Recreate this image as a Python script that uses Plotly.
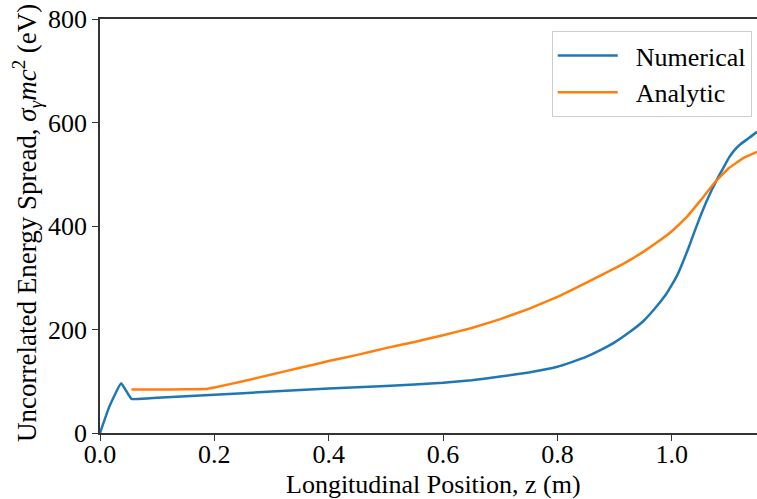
import plotly.graph_objects as go

# Longitudinal position z (m) and uncorrelated energy spread (eV)
numerical_z = [0.0, 0.016, 0.037, 0.055, 0.1, 0.2, 0.3, 0.4, 0.5, 0.6, 0.65, 0.7, 0.75,
               0.8, 0.825, 0.85, 0.875, 0.9, 0.925, 0.95, 0.97, 0.99, 1.0, 1.01, 1.02,
               1.03, 1.04, 1.05, 1.06, 1.07, 1.08, 1.09, 1.1, 1.11, 1.12, 1.135, 1.149]
numerical_sigma = [0, 50, 96, 66, 68, 74, 80, 86, 91, 97, 102, 109, 117,
                   128, 137, 147, 160, 175, 194, 216, 240, 268, 286, 306, 332,
                   360, 390, 419, 446, 470, 492, 512, 532, 547, 558, 570, 582]

analytic_z = [0.055, 0.1, 0.15, 0.185, 0.2, 0.25, 0.3, 0.35, 0.4, 0.45, 0.5, 0.55, 0.6,
              0.65, 0.7, 0.75, 0.8, 0.85, 0.9, 0.925, 0.95, 0.975, 1.0, 1.025, 1.05,
              1.075, 1.1, 1.125, 1.149]
analytic_sigma = [84, 84, 84.5, 85, 88, 100, 113, 126, 139, 151, 164, 176, 189,
                  203, 220, 240, 263, 290, 318, 333, 350, 369, 390, 416, 449,
                  484, 512, 531, 543]

series_names = ["Numerical", "Analytic"]
x_ticks = [0.0, 0.2, 0.4, 0.6, 0.8, 1.0]
y_ticks = [0, 200, 400, 600, 800]

FONT = "Liberation Serif"
SIZE = 26
AXIS_COLOR = "#333333"
PAD = "\u00a0\u00a0"  # gap between legend line sample and its label

fig = go.Figure()
fig.add_trace(go.Scatter(x=numerical_z, y=numerical_sigma, mode="lines",
                         name=PAD + series_names[0],
                         line=dict(color="#1f77b4", width=2.5, shape="spline", smoothing=0.3)))
fig.add_trace(go.Scatter(x=analytic_z, y=analytic_sigma, mode="lines",
                         name=PAD + series_names[1],
                         line=dict(color="#ff7f0e", width=2.5, shape="spline", smoothing=0.3)))

tick_style = dict(
    showgrid=False, zeroline=False,
    showline=True, linecolor=AXIS_COLOR, linewidth=1.5,
    ticks="outside", ticklen=6, tickwidth=1.2, tickcolor=AXIS_COLOR,
    tickfont=dict(family=FONT, size=SIZE, color="black"),
)

fig.update_layout(
    width=757, height=499,
    margin=dict(l=100, r=0, t=19, b=66),
    paper_bgcolor="white", plot_bgcolor="white",
    font=dict(family=FONT, size=SIZE, color="black"),
    showlegend=True,
    legend=dict(
        x=0.992, y=(433 - 31) / 414, xanchor="right", yanchor="top",
        bgcolor="white", bordercolor="#cccccc", borderwidth=1,
        itemwidth=60, tracegroupgap=0,
        font=dict(family=FONT, size=SIZE, color="black"),
    ),
    xaxis=dict(range=[0, 1.149], tickvals=x_ticks, tickformat=".1f", mirror=True,
               ticklabelstandoff=-9, **tick_style),
    yaxis=dict(range=[0, 800], tickvals=y_ticks, **tick_style),
    annotations=[
        dict(text="Longitudinal Position, z (m)", xref="paper", yref="paper",
             x=0.508, y=(433 - 484) / 414, xanchor="center", yanchor="middle",
             showarrow=False, font=dict(family=FONT, size=SIZE, color="black")),
        dict(text="Uncorrelated Energy Spread, <i>σ<sub>γ</sub>mc</i><sup>2</sup> (eV)",
             xref="paper", yref="paper", x=(27 - 100) / 657, y=(433 - 223) / 414,
             xanchor="center", yanchor="middle", textangle=-90, showarrow=False,
             font=dict(family=FONT, size=27, color="black")),
    ],
)

fig.write_html("out.html")
